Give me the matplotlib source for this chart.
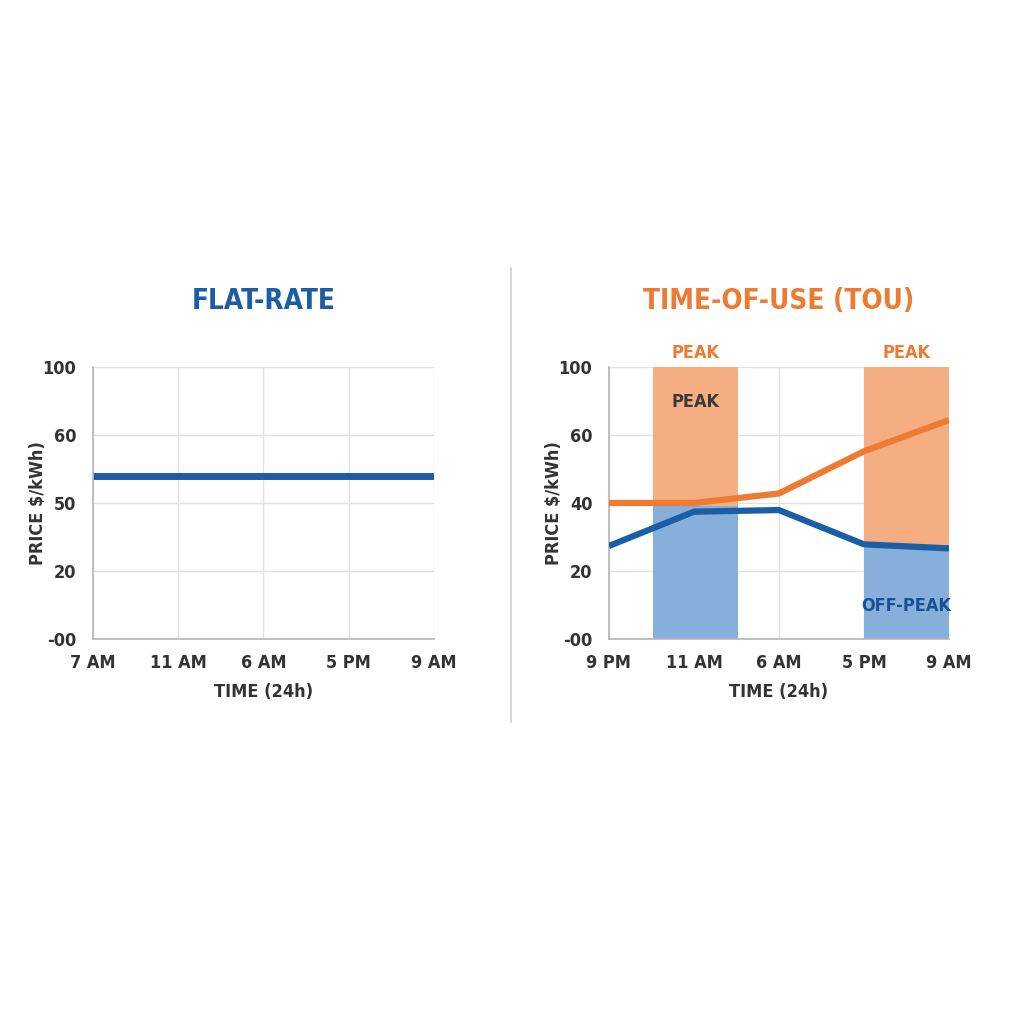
#!/usr/bin/env python3
"""Flat-rate vs time-of-use electricity price comparison."""

import matplotlib
matplotlib.use("Agg")
import matplotlib.pyplot as plt
from matplotlib.lines import Line2D

plt.rcParams["font.family"] = ["DejaVu Sans"]
plt.rcParams["font.stretch"] = "condensed"

# --- data -------------------------------------------------------------
flat_hours = ["7 AM", "11 AM", "6 AM", "5 PM", "9 AM"]
flat_price = [60, 60, 60, 60, 60]

tou_hours = ["9 PM", "11 AM", "6 AM", "5 PM", "9 AM"]
tou_peak = [50, 50, 53.5, 69, 80.5]
tou_offpeak = [34.2, 46.8, 47.4, 34.8, 33.3]

y_ticks = [0, 25, 50, 75, 100]
flat_ylabels = ["-00", "20", "50", "60", "100"]
tou_ylabels = ["-00", "20", "40", "60", "100"]

peak_windows = [(0.52, 1.52), (3.0, 4.0)]
window_split = [49, 34.5]

BLUE = "#1b5ea6"
ORANGE = "#ef7b33"
TEXT = "#333333"


def style_axes(ax, xlabels, ylabels):
    ax.set_xlim(0, len(xlabels) - 1)
    ax.set_ylim(0, 100)
    ax.set_xticks(range(len(xlabels)))
    ax.set_xticklabels(xlabels)
    ax.set_yticks(y_ticks)
    ax.set_yticklabels(ylabels)
    ax.tick_params(length=0, pad=11, labelsize=13, labelcolor=TEXT)
    ax.tick_params(axis="y", pad=12)
    for lab in ax.get_xticklabels() + ax.get_yticklabels():
        lab.set_fontweight("bold")
    ax.grid(color="#e2e2e2", linewidth=1.0)
    ax.set_axisbelow(True)
    for side in ["top", "right"]:
        ax.spines[side].set_visible(False)
    for side in ["left", "bottom"]:
        ax.spines[side].set_color("#b5b5b5")
        ax.spines[side].set_linewidth(1.2)
    ax.set_xlabel("TIME (24h)", fontsize=13, fontweight="bold", color=TEXT, labelpad=8)
    ax.set_ylabel("PRICE $/kWh)", fontsize=13, fontweight="bold", color=TEXT)
    ax.yaxis.set_label_coords(-0.135, 0.5)


fig = plt.figure(figsize=(10.24, 10.24), dpi=100)
ax1 = fig.add_axes([0.0908, 0.376, 0.333, 0.2656])
ax2 = fig.add_axes([0.5947, 0.376, 0.332, 0.2656])

# flat-rate panel
style_axes(ax1, flat_hours, flat_ylabels)
ax1.plot(range(len(flat_hours)), flat_price, color=BLUE, linewidth=5, solid_capstyle="butt")
ax1.set_title("FLAT-RATE", fontsize=20, fontweight="bold", color=BLUE, pad=42)

# time-of-use panel
style_axes(ax2, tou_hours, tou_ylabels)
for (x0, x1), split in zip(peak_windows, window_split):
    ax2.fill_between([x0, x1], split, 100, color="#f4ae82", linewidth=0, zorder=1)
    ax2.fill_between([x0, x1], 0, split, color="#86afdc", linewidth=0, zorder=1)
    ax2.text((x0 + x1) / 2, 102, "PEAK", ha="center", va="bottom", fontsize=13,
             fontweight="bold", color=ORANGE)
ax2.plot(range(len(tou_hours)), tou_peak, color=ORANGE, linewidth=4.5, zorder=3,
         solid_capstyle="butt")
ax2.plot(range(len(tou_hours)), tou_offpeak, color=BLUE, linewidth=4.5, zorder=3,
         solid_capstyle="butt")
ax2.text(sum(peak_windows[0]) / 2, 87, "PEAK", ha="center", va="center", fontsize=13,
         fontweight="bold", color="#3a3a3a", zorder=4)
ax2.text(sum(peak_windows[1]) / 2, 12, "OFF-PEAK", ha="center", va="center", fontsize=13,
         fontweight="bold", color="#1b4f95", zorder=4)
ax2.set_title("TIME-OF-USE (TOU)", fontsize=20, fontweight="bold", color=ORANGE, pad=42)

# divider between the two panels
fig.add_artist(Line2D([0.499, 0.499], [0.295, 0.738], color="#cfcfcf", linewidth=1.2))

fig.savefig("out.png", dpi=100, facecolor="white")
plt.close(fig)
